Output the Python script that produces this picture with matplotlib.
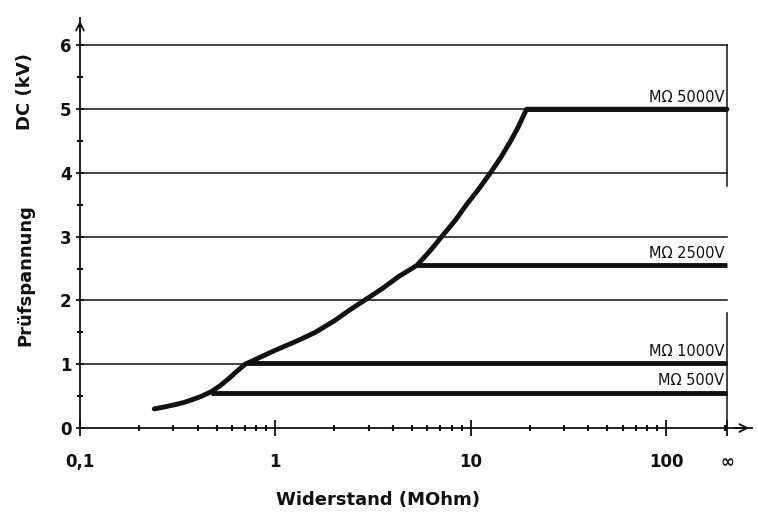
import matplotlib.pyplot as plt

# Prüfkurve (MOhm, kV)
kurve_r = [0.24, 0.27, 0.30, 0.34, 0.38, 0.42, 0.47, 0.52, 0.58, 0.63, 0.70, 0.85, 1.0, 1.3, 1.6, 2.0, 2.4,
           2.85, 3.5, 4.3, 5.3, 6.2, 7.1, 8.3, 9.5, 11.0, 12.6, 14.3, 16.0, 17.5, 19.3, 205]
kurve_u = [0.30, 0.33, 0.36, 0.40, 0.45, 0.50, 0.57, 0.66, 0.78, 0.88, 1.00, 1.12, 1.22, 1.37, 1.50, 1.68, 1.85,
           2.00, 2.18, 2.38, 2.55, 2.78, 3.00, 3.25, 3.50, 3.75, 4.00, 4.25, 4.50, 4.72, 5.00, 5.00]

# Messbereiche: Startwiderstand, Spannung, Beschriftung
bereich_r = [0.47, 0.70, 5.3, 19.3]
bereich_u = [0.55, 1.02, 2.55, 5.0]
bereich_text = ['M\u03a9 500V', 'M\u03a9 1000V', 'M\u03a9 2500V', 'M\u03a9 5000V']

unendlich = 205
x_ticks = [0.1, 1, 10, 100, unendlich]
x_labels = ['0,1', '1', '10', '100', '\u221e']
y_ticks = [0, 1, 2, 3, 4, 5, 6]

col = '#111111'
fig = plt.figure(figsize=(7.58, 5.16), dpi=100)
ax = fig.add_axes([0.1055, 0.1705, 0.8865, 0.7946])
ax.set_xscale('log')
ax.set_xlim(0.1, 275)
ax.set_ylim(0, 6.43)

# Gitterlinien bis "unendlich"
for y in y_ticks[1:]:
    ax.plot([0.1, unendlich], [y, y], color=col, lw=1.1, zorder=1)

# rechte Begrenzung bei unendlich (zwei Stücke)
ax.plot([unendlich, unendlich], [3.8, 6.0], color=col, lw=1.1)
ax.plot([unendlich, unendlich], [0, 1.8], color=col, lw=1.1)

for r, u, t in zip(bereich_r, bereich_u, bereich_text):
    ax.plot([r, unendlich], [u, u], color=col, lw=3.5, solid_capstyle='butt', zorder=3)
    ax.text(unendlich * 0.97, u + 0.07, t, ha='right', va='bottom', fontsize=10.5, color=col)

ax.plot(kurve_r, kurve_u, color=col, lw=3.5, solid_capstyle='round', solid_joinstyle='round', zorder=4)

for s in ['top', 'right']:
    ax.spines[s].set_visible(False)
for s in ['left', 'bottom']:
    ax.spines[s].set_linewidth(1.3)
    ax.spines[s].set_color(col)

# Pfeilspitzen
ax.annotate('', xy=(1.0, 0), xytext=(0.97, 0), xycoords='axes fraction',
            arrowprops=dict(arrowstyle='->', color=col, lw=1.3, mutation_scale=14))
ax.annotate('', xy=(0, 1.0), xytext=(0, 0.96), xycoords='axes fraction',
            arrowprops=dict(arrowstyle='->', color=col, lw=1.3, mutation_scale=14))

ax.set_xticks(x_ticks)
ax.set_xticklabels(x_labels, fontsize=12, fontweight='bold')
ax.set_xticks([m * d for d in [0.1, 1, 10, 100] for m in range(2, 10) if m * d < unendlich], minor=True)
ax.xaxis.set_minor_formatter(plt.NullFormatter())
ax.tick_params(axis='x', which='major', direction='inout', length=12, width=1.3, pad=12, colors=col)
ax.tick_params(axis='x', which='minor', direction='inout', length=5, width=1.5, colors=col)

ax.set_yticks(y_ticks)
ax.set_yticklabels([str(v) for v in y_ticks], fontsize=12, fontweight='bold')
ax.set_yticks([v + 0.5 for v in y_ticks[:-1]], minor=True)
ax.tick_params(axis='y', which='major', direction='inout', length=6, width=1.3, pad=3, colors=col)
ax.tick_params(axis='y', which='minor', direction='inout', length=5, width=1.5, colors=col)

fig.text(0.499, 0.031, 'Widerstand (MOhm)', ha='center', va='center', fontsize=13, fontweight='bold', color=col)
fig.text(0.033, 0.467, 'Prüfspannung', ha='center', va='center', rotation=90, fontsize=13, fontweight='bold', color=col)
fig.text(0.033, 0.822, 'DC (kV)', ha='center', va='center', rotation=90, fontsize=13, fontweight='bold', color=col)

plt.savefig('out.png')
